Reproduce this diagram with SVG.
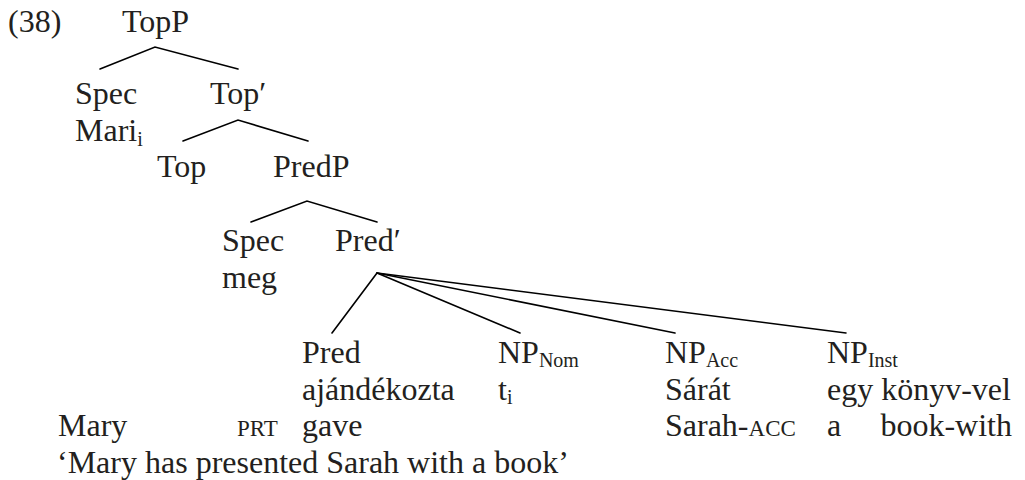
<svg xmlns="http://www.w3.org/2000/svg" width="1025" height="480" viewBox="0 0 1025 480">
  <style>
    text { font-family: "Liberation Serif", "Times New Roman", serif; font-size: 32px; fill: #231f20; }
    .sub { font-size: 20px; }
    .sc { font-size: 23px; }
    .edge { stroke: #000; stroke-width: 1.6; fill: none; stroke-linecap: round; }
  </style>
  <rect width="1025" height="480" fill="#fff"/>

  <!-- example number -->
  <text id="exnum" x="8" y="32">(38)</text>

  <!-- tree edges -->
  <g id="connectors">
    <path class="edge" d="M100,69 L155,47 L238,69"/>
    <path class="edge" d="M183,141 L238,120 L308,141"/>
    <path class="edge" d="M251,222 L307,201 L377,222"/>
    <path class="edge" d="M332,333 L377,273 L520,333"/>
    <path class="edge" d="M377,273 L675,333"/>
    <path class="edge" d="M377,273 L846,333"/>
  </g>

  <!-- nodes -->
  <g id="n-topp"><text x="122" y="32">TopP</text></g>
  <g id="n-spec1"><text x="75" y="104">Spec</text><text x="75" y="141">Mari<tspan class="sub" dy="5">i</tspan></text></g>
  <g id="n-topbar"><text x="210" y="104">Top′</text></g>
  <g id="n-top"><text x="157" y="177">Top</text></g>
  <g id="n-predp"><text x="273" y="177">PredP</text></g>
  <g id="n-spec2"><text x="222" y="251">Spec</text><text x="222" y="288">meg</text></g>
  <g id="n-predbar"><text x="335" y="251">Pred′</text></g>
  <g id="n-pred"><text x="302" y="363">Pred</text><text x="302" y="399.5">ajándékozta</text></g>
  <g id="n-npnom"><text x="498" y="363">NP<tspan class="sub" dy="4">Nom</tspan></text><text x="498" y="399.5">t<tspan class="sub" dy="4">i</tspan></text></g>
  <g id="n-npacc"><text x="665" y="363">NP<tspan class="sub" dy="4">Acc</tspan></text><text x="665" y="399.5">Sárát</text></g>
  <g id="n-npinst"><text x="827" y="363">NP<tspan class="sub" dy="4">Inst</tspan></text><text x="827" y="399.5">egy könyv-vel</text></g>

  <!-- gloss line -->
  <g id="gloss">
    <text x="58" y="436">Mary</text>
    <text class="sc" x="237" y="436">PRT</text>
    <text x="302" y="436">gave</text>
    <text x="665" y="436">Sarah-<tspan class="sc">ACC</tspan></text>
    <text x="827" y="436">a</text>
    <text x="1012" y="436" text-anchor="end">book-with</text>
  </g>

  <!-- free translation -->
  <text id="translation" x="57" y="472.5">‘Mary has presented Sarah with a book’</text>
</svg>
